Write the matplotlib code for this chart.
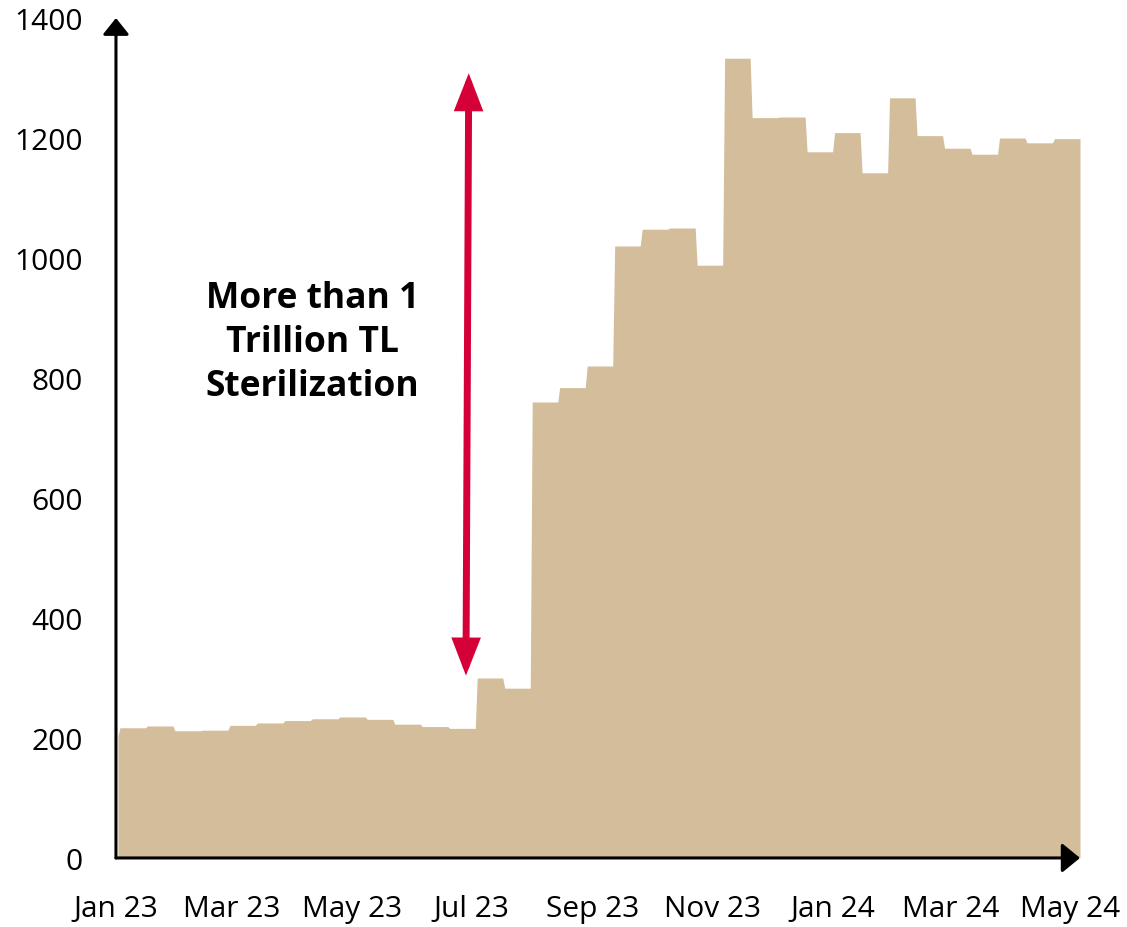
import pandas as pd
import matplotlib
matplotlib.use('Agg')
import matplotlib.pyplot as plt
import matplotlib.dates as mdates

plt.rcParams['font.family'] = ['Open Sans', 'DejaVu Sans']

# Two-week maintenance periods and the amount held in each (billion TL)
period_start = pd.date_range('2023-01-03', periods=35, freq='14D')
period_days = 13
opening_date = pd.Timestamp('2023-01-02')
opening_value = 203
sterilized = [
    217, 220, 212, 213, 221, 225, 229, 232, 235, 231, 223, 219, 216,
    300, 283, 760, 784, 820, 1020, 1048, 1050, 988, 1333, 1234, 1235,
    1177, 1209, 1142, 1267, 1204, 1183, 1173, 1200, 1192, 1199,
]

y_ticks = [0, 200, 400, 600, 800, 1000, 1200, 1400]
label_months = [1, 3, 5, 7, 9, 11]
note = 'More than 1\nTrillion TL\nSterilization'

AREA = '#D4BD9B'
RED = '#D50037'

# each period is held flat, then steps to the next one over a day
xs = [opening_date]
ys = [opening_value]
for start, val in zip(period_start, sterilized):
    xs += [start, start + pd.Timedelta(days=period_days)]
    ys += [val, val]

fig = plt.figure(figsize=(11.27, 9.28), dpi=100)
ax = fig.add_axes([0.1029, 0.0744, 0.8554, 0.9051])

ax.fill_between(xs, 0, ys, color=AREA, linewidth=0)

ax.set_xlim(pd.Timestamp('2023-01-01'), xs[-1])
ax.set_ylim(0, 1400)
ax.set_yticks(y_ticks)
ax.xaxis.set_major_locator(mdates.MonthLocator(bymonth=label_months))
ax.xaxis.set_major_formatter(mdates.DateFormatter('%b %y'))
ax.tick_params(axis='both', length=0, labelsize=21.5, colors='black')
ax.tick_params(axis='y', pad=24)
ax.tick_params(axis='x', pad=26)

for side in ax.spines:
    ax.spines[side].set_visible(False)

# axis lines with arrow heads
ax.annotate('', xy=(0, 1.0), xytext=(0, 0), xycoords='axes fraction',
            arrowprops=dict(arrowstyle='-|>,head_length=0.5,head_width=0.4',
                            color='black', lw=2.2, shrinkA=0, shrinkB=0,
                            mutation_scale=20),
            annotation_clip=False)
ax.annotate('', xy=(1.0, 0), xytext=(0, 0), xycoords='axes fraction',
            arrowprops=dict(arrowstyle='-|>,head_length=0.55,head_width=0.45',
                            color='black', lw=2.2, shrinkA=0, shrinkB=0,
                            mutation_scale=20),
            annotation_clip=False)

# double-headed red arrow spanning the increase
ax.annotate('', xy=(pd.Timestamp('2023-06-29 16:00'), 1308),
            xytext=(pd.Timestamp('2023-06-28 06:00'), 304),
            arrowprops=dict(arrowstyle='<|-|>,head_length=0.9,head_width=0.35',
                            color=RED, lw=5, shrinkA=0, shrinkB=0,
                            mutation_scale=20, joinstyle='miter'))

ax.text(pd.Timestamp('2023-04-11'), 860, note, ha='center', va='center',
        fontsize=25.5, fontweight='bold', linespacing=1.28, color='black')

fig.savefig('out.png', dpi=100, facecolor='white')
